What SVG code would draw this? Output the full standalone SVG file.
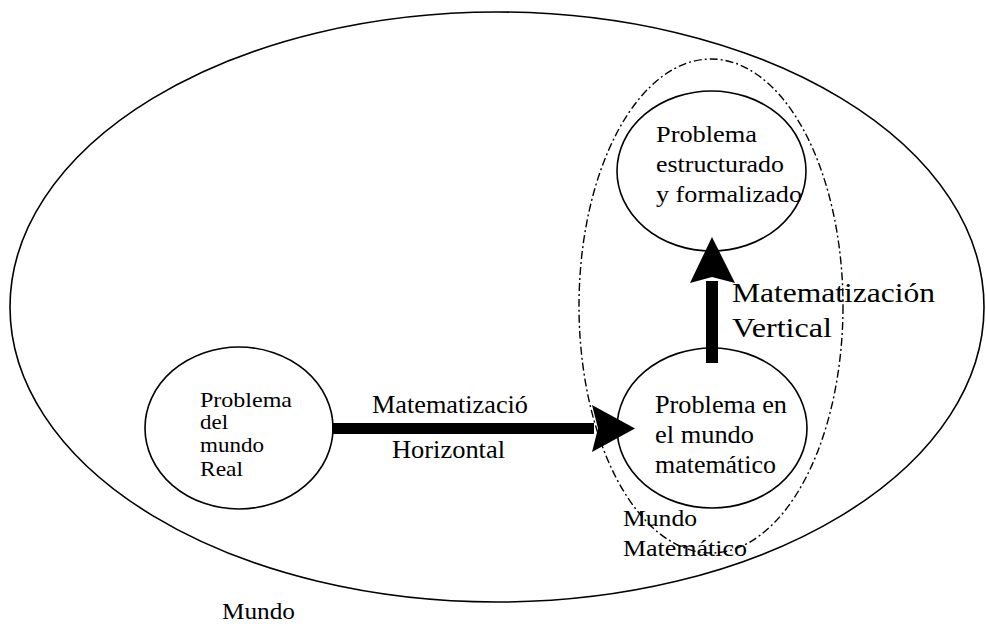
<svg xmlns="http://www.w3.org/2000/svg" width="986" height="626" viewBox="0 0 986 626" font-family="'Times New Roman', 'Liberation Serif', Times, serif">
<style>
.el{fill:none;stroke:#000;stroke-width:1.6}
.dash{fill:none;stroke:#000;stroke-width:1.4;stroke-dasharray:8 3 2 3}
text{fill:#000}
.t21{font-size:21px}
.t24{font-size:24px}
.t25{font-size:25px}
.t26{font-size:26px}
.t28{font-size:28px}
</style>
<rect width="986" height="626" fill="#fff"/>
<g id="mundo">
<ellipse class="el" cx="497" cy="307" rx="487" ry="295"/>
<text class="t24" x="222" y="619" textLength="73" lengthAdjust="spacingAndGlyphs">Mundo</text>
</g>
<g id="mundo-matematico">
<ellipse class="dash" cx="711" cy="306" rx="132" ry="247"/>
<text class="t24" x="623" y="526" textLength="74" lengthAdjust="spacingAndGlyphs">Mundo</text>
<text class="t24" x="623" y="556" textLength="124" lengthAdjust="spacingAndGlyphs">Matemático</text>
</g>
<g id="problema-real">
<ellipse class="el" cx="239" cy="428" rx="94" ry="81"/>
<text class="t21" x="200" y="407" textLength="92" lengthAdjust="spacingAndGlyphs">Problema</text>
<text class="t21" x="200" y="429" textLength="28" lengthAdjust="spacingAndGlyphs">del</text>
<text class="t21" x="200" y="452" textLength="64" lengthAdjust="spacingAndGlyphs">mundo</text>
<text class="t21" x="200" y="476" textLength="43" lengthAdjust="spacingAndGlyphs">Real</text>
</g>
<g id="problema-estructurado">
<ellipse class="el" cx="711.5" cy="171" rx="94.5" ry="80"/>
<text class="t24" x="656" y="142" textLength="101" lengthAdjust="spacingAndGlyphs">Problema</text>
<text class="t24" x="656" y="172" textLength="128" lengthAdjust="spacingAndGlyphs">estructurado</text>
<text class="t24" x="656" y="202" textLength="146" lengthAdjust="spacingAndGlyphs">y formalizado</text>
</g>
<g id="problema-matematico">
<ellipse class="el" cx="712" cy="428" rx="95" ry="80"/>
<text class="t25" x="655" y="413" textLength="132" lengthAdjust="spacingAndGlyphs">Problema en</text>
<text class="t25" x="655" y="443" textLength="99" lengthAdjust="spacingAndGlyphs">el mundo</text>
<text class="t25" x="655" y="473" textLength="121" lengthAdjust="spacingAndGlyphs">matemático</text>
</g>
<g id="connectors">
<g id="horizontal">
<rect x="332" y="423" width="262" height="11" fill="#000"/>
<polygon points="592,405 635,428.5 592,452 598,428.5" fill="#000"/>
<text class="t26" x="372" y="413" textLength="156" lengthAdjust="spacingAndGlyphs">Matematizació</text>
<text class="t26" x="392" y="458" textLength="113" lengthAdjust="spacingAndGlyphs">Horizontal</text>
</g>
<g id="vertical">
<rect x="706" y="281" width="12" height="82" fill="#000"/>
<polygon points="690,283 712,237 735,283 712,277" fill="#000"/>
<text class="t28" x="732" y="302" textLength="203" lengthAdjust="spacingAndGlyphs">Matematización</text>
<text class="t28" x="732" y="337" textLength="100" lengthAdjust="spacingAndGlyphs">Vertical</text>
</g>
</g>
</svg>
